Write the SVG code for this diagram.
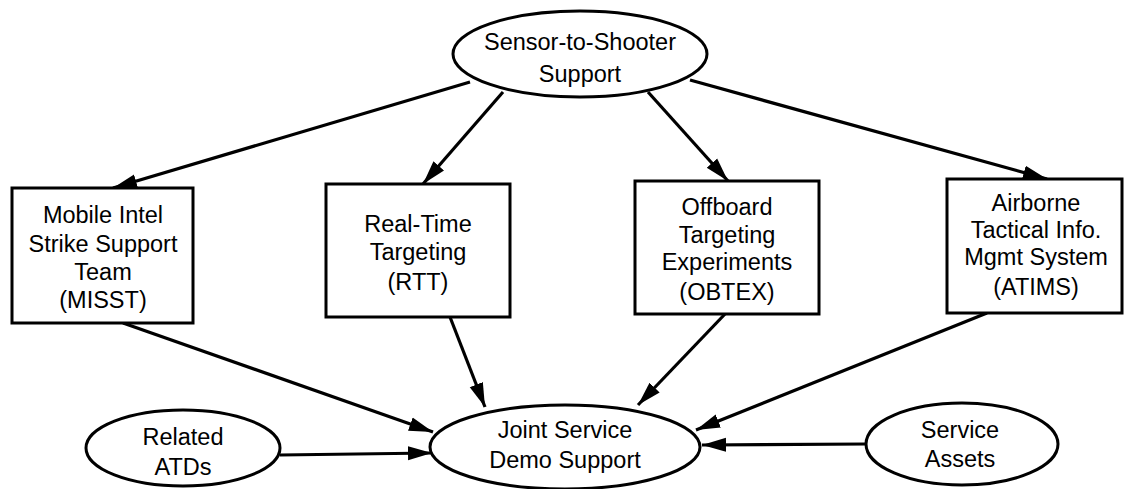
<svg xmlns="http://www.w3.org/2000/svg" width="1124" height="489" viewBox="0 0 1124 489">
<style>
.n{fill:#fff;stroke:#000;stroke-width:3}
.t{font-family:"Liberation Sans",Arial,sans-serif;font-size:23.5px;fill:#000;text-anchor:middle}
.c{stroke:#000;stroke-width:3.2;fill:none;marker-end:url(#ah)}
</style>
<defs>
<marker id="ah" markerUnits="userSpaceOnUse" markerWidth="26" markerHeight="16" refX="24" refY="8" orient="auto">
<path d="M0,1 L24,8 L0,15 Z" fill="#000"/>
</marker>
</defs>
<rect width="1124" height="489" fill="#fff"/>
<g id="connectors">
<line class="c" x1="470" y1="82" x2="113" y2="188"/>
<line class="c" x1="503" y1="92" x2="423" y2="184"/>
<line class="c" x1="648" y1="92" x2="728" y2="181"/>
<line class="c" x1="690" y1="80" x2="1047" y2="179"/>
<line class="c" x1="123" y1="323" x2="433" y2="432"/>
<line class="c" x1="450" y1="317" x2="485" y2="407"/>
<line class="c" x1="725" y1="314" x2="638" y2="405"/>
<line class="c" x1="987" y1="313" x2="696" y2="430"/>
<line class="c" x1="280" y1="455" x2="432" y2="453"/>
<line class="c" x1="866" y1="444" x2="702" y2="445"/>
</g>
<g id="sensor">
<ellipse class="n" cx="580" cy="54" rx="127" ry="43"/>
<text class="t" x="580" y="50">Sensor-to-Shooter</text>
<text class="t" x="580" y="82">Support</text>
</g>
<g id="misst">
<rect class="n" x="12" y="188" width="181" height="135"/>
<text class="t" x="103" y="223">Mobile Intel</text>
<text class="t" x="103" y="252">Strike Support</text>
<text class="t" x="103" y="280">Team</text>
<text class="t" x="103" y="308">(MISST)</text>
</g>
<g id="rtt">
<rect class="n" x="326" y="184" width="184" height="133"/>
<text class="t" x="418" y="232">Real-Time</text>
<text class="t" x="418" y="260">Targeting</text>
<text class="t" x="418" y="290">(RTT)</text>
</g>
<g id="obtex">
<rect class="n" x="635" y="181" width="184" height="133"/>
<text class="t" x="727" y="215">Offboard</text>
<text class="t" x="727" y="243">Targeting</text>
<text class="t" x="727" y="270">Experiments</text>
<text class="t" x="727" y="300">(OBTEX)</text>
</g>
<g id="atims">
<rect class="n" x="947" y="179" width="175" height="134"/>
<text class="t" x="1036" y="211">Airborne</text>
<text class="t" x="1036" y="238">Tactical Info.</text>
<text class="t" x="1036" y="265">Mgmt System</text>
<text class="t" x="1036" y="295">(ATIMS)</text>
</g>
<g id="joint">
<ellipse class="n" cx="565" cy="447" rx="135" ry="42"/>
<text class="t" x="565" y="438">Joint Service</text>
<text class="t" x="565" y="468">Demo Support</text>
</g>
<g id="related">
<ellipse class="n" cx="183" cy="448" rx="97" ry="38"/>
<text class="t" x="183" y="445">Related</text>
<text class="t" x="183" y="475">ATDs</text>
</g>
<g id="assets">
<ellipse class="n" cx="962" cy="444" rx="96" ry="41"/>
<text class="t" x="960" y="438">Service</text>
<text class="t" x="960" y="467">Assets</text>
</g>
</svg>
